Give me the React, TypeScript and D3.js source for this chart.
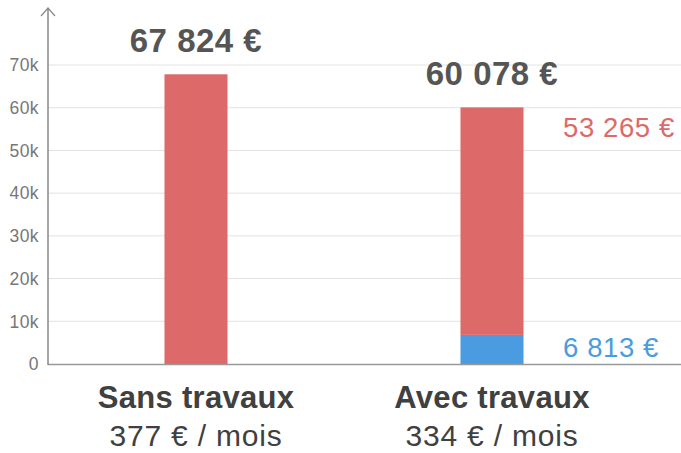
import React, { useEffect, useRef } from "react";
import * as d3 from "d3";

// chart data
const categories = ["Sans travaux", "Avec travaux"];
const monthly = ["377 € / mois", "334 € / mois"];
const totals = [67824, 60078];
const redPart = [67824, 53265];
const bluePart = [0, 6813];
const yTicks = [0, 10000, 20000, 30000, 40000, 50000, 60000, 70000];

const RED = "#dd6a69";
const BLUE = "#4a9be0";

const fmt = (v: number) => d3.format(",")(v).replace(/,/g, " ") + " €";

function App() {
  const chartRef = useRef(null);

  useEffect(() => {
    const W = 681;
    const H = 453;
    const left = 48;
    const base = 364;

    const svg = d3.select(chartRef.current);
    svg.selectAll("*").remove();

    const y = d3.scaleLinear().domain([0, 70000]).range([base, 65]);
    const x = d3.scaleBand().domain(categories).range([left, 640]);
    const barW = x.bandwidth() * 0.213;
    const font = "'Liberation Sans', Arial, Helvetica, sans-serif";

    // Gridlines
    svg
      .append("g")
      .selectAll("line")
      .data(yTicks.filter((d) => d > 0))
      .enter()
      .append("line")
      .attr("x1", left)
      .attr("x2", W)
      .attr("y1", (d) => y(d))
      .attr("y2", (d) => y(d))
      .attr("stroke", "#e2e2e2")
      .attr("stroke-width", 1);

    // Tick labels
    svg
      .append("g")
      .selectAll("text")
      .data(yTicks)
      .enter()
      .append("text")
      .attr("x", 39)
      .attr("y", (d) => y(d))
      .attr("dy", "0.36em")
      .attr("text-anchor", "end")
      .style("font-family", font)
      .style("font-size", "17.5px")
      .style("letter-spacing", "0.4px")
      .attr("fill", "#777")
      .text((d) => (d === 0 ? "0" : d / 1000 + "k"));

    // Bars (stacked)
    const g = svg.append("g");
    categories.forEach((c, i) => {
      const cx = (x(c) as number) + x.bandwidth() / 2;
      const b0 = bluePart[i];
      if (b0 > 0) {
        g.append("rect")
          .attr("x", cx - barW / 2)
          .attr("width", barW)
          .attr("y", y(b0))
          .attr("height", y(0) - y(b0))
          .attr("fill", BLUE);
      }
      g.append("rect")
        .attr("x", cx - barW / 2)
        .attr("width", barW)
        .attr("y", y(b0 + redPart[i]))
        .attr("height", y(b0) - y(b0 + redPart[i]))
        .attr("fill", RED);

      // Total label
      g.append("text")
        .attr("x", cx)
        .attr("y", y(totals[i]) - 22)
        .attr("text-anchor", "middle")
        .style("font-family", font)
        .style("font-size", "33px")
        .style("font-weight", "bold")
        .style("letter-spacing", "0.5px")
        .attr("fill", "#555")
        .text(fmt(totals[i]));

      // Category labels
      g.append("text")
        .attr("x", cx)
        .attr("y", 408)
        .attr("text-anchor", "middle")
        .style("font-family", font)
        .style("font-size", "31px")
        .style("font-weight", "bold")
        .style("letter-spacing", "0.3px")
        .attr("fill", "#404040")
        .text(c);
      g.append("text")
        .attr("x", cx)
        .attr("y", 446)
        .attr("text-anchor", "middle")
        .style("font-family", font)
        .style("font-size", "30px")
        .style("letter-spacing", "0.8px")
        .attr("fill", "#404040")
        .text(monthly[i]);

      // Segment labels
      if (b0 > 0) {
        g.append("text")
          .attr("x", 563)
          .attr("y", y(totals[i]) + 30)
          .style("font-family", font)
          .style("font-size", "27.5px")
          .style("letter-spacing", "0.6px")
          .attr("fill", RED)
          .text(fmt(redPart[i]));
        g.append("text")
          .attr("x", 563)
          .attr("y", y(0) - 7)
          .style("font-family", font)
          .style("font-size", "27.5px")
          .style("letter-spacing", "0.6px")
          .attr("fill", BLUE)
          .text(fmt(b0));
      }
    });

    // Axes
    svg
      .append("line")
      .attr("x1", left)
      .attr("x2", W)
      .attr("y1", base + 0.5)
      .attr("y2", base + 0.5)
      .attr("stroke", "#999")
      .attr("stroke-width", 1.5);
    svg
      .append("line")
      .attr("x1", left)
      .attr("x2", left)
      .attr("y1", base + 1)
      .attr("y2", 8)
      .attr("stroke", "#888")
      .attr("stroke-width", 1.5);
    svg
      .append("path")
      .attr("d", `M${left - 7},${16} L${left},${8} L${left + 7},${16}`)
      .attr("fill", "none")
      .attr("stroke", "#888")
      .attr("stroke-width", 1.2);

    svg.attr("width", W).attr("height", H);
  }, []);

  return (
    <svg
      ref={chartRef}
      width={681}
      height={453}
      style={{ position: "absolute", left: 0, top: 0, background: "#fff" }}
    />
  );
}

export default App;
